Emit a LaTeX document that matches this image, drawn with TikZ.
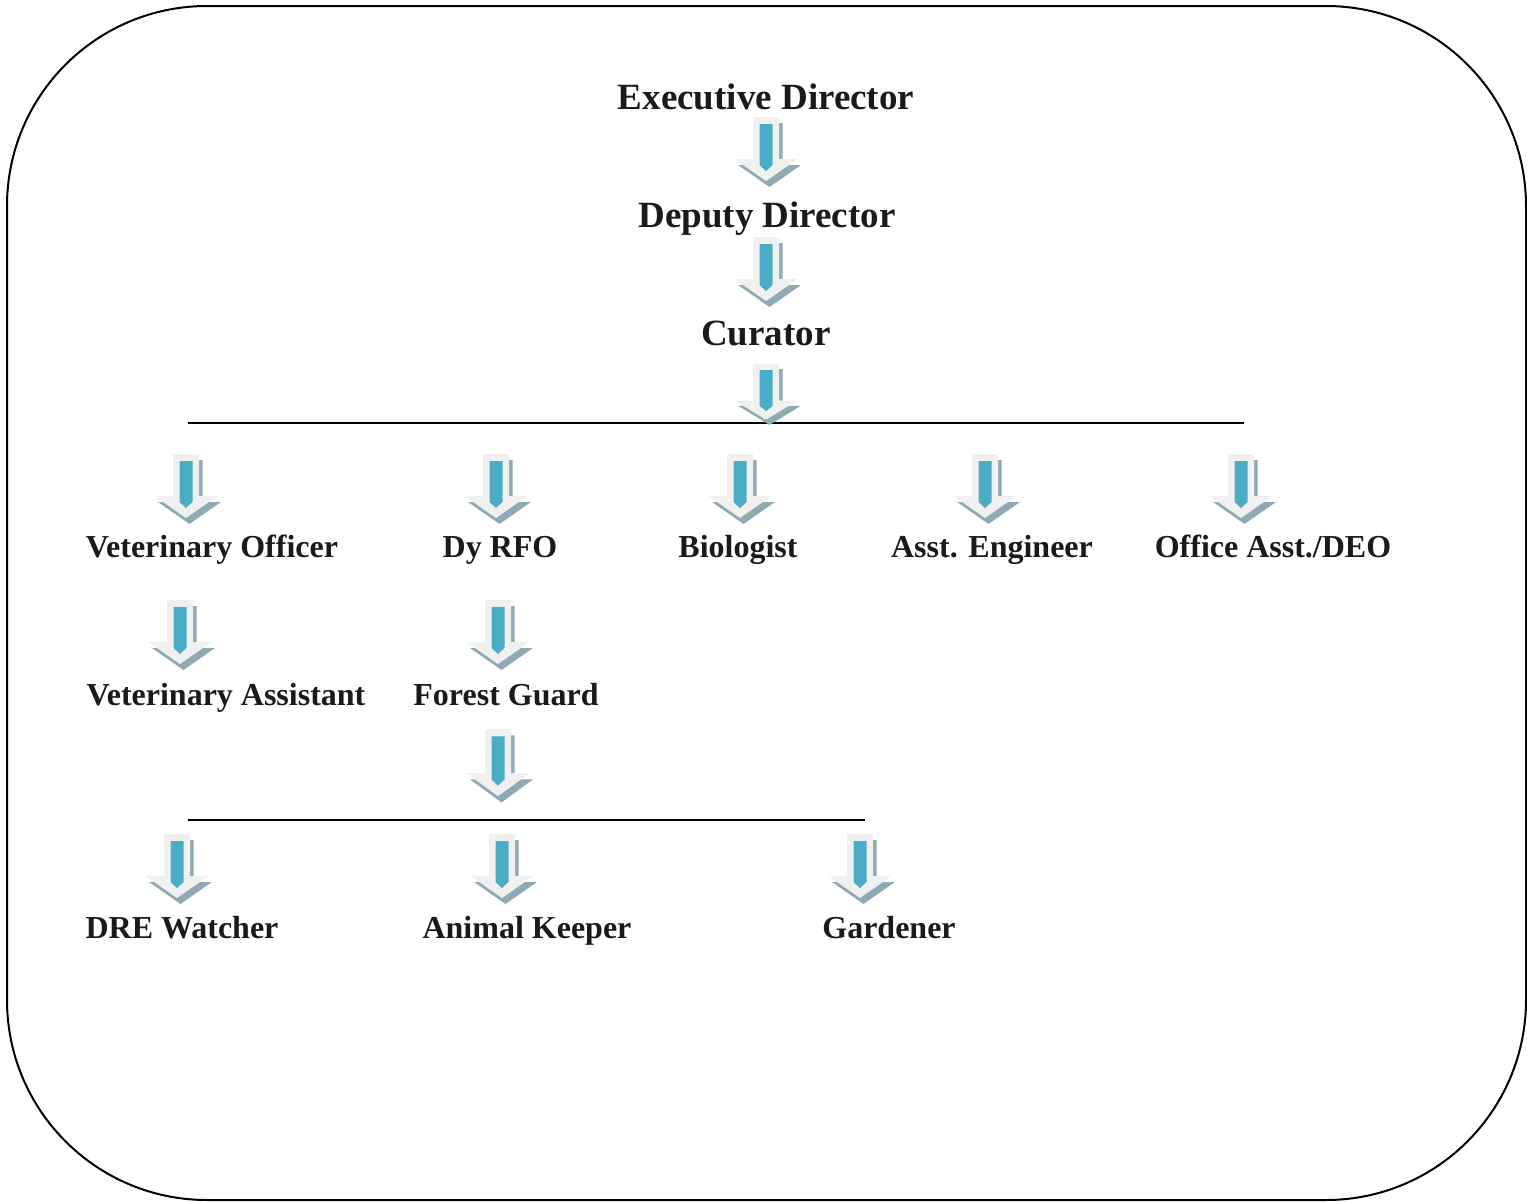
\documentclass[tikz,border=0pt]{standalone}
\usepackage{fontspec}
\setmainfont{Liberation Serif}
\definecolor{arrlight}{HTML}{F0F0F0}
\definecolor{arrshadow}{HTML}{8FAAB3}
\definecolor{arrteal}{HTML}{4BACC6}
\definecolor{txt}{HTML}{1A1A1A}
\tikzset{
  barrow/.pic={
    \fill[arrshadow] (-13+3.5,6) -- (13+3.5,6) -- (13+3.5,42+6) -- (31.5+3.5,42+6) -- (0+3.5,64+6) -- (-31.5+3.5,42+6) -- (-13+3.5,42+6) -- cycle;
    \fill[arrlight] (-13,0) -- (13,0) -- (13,42) -- (31.5,42) -- (0,64) -- (-31.5,42) -- (-13,42) -- cycle;
    \fill[arrteal] (-6.5,7) -- (6.5,7) -- (6.5,48) -- (0,54) -- (-6.5,48) -- cycle;
  },
  toplabel/.style={font=\fontsize{37}{44}\selectfont\bfseries, text=txt, inner sep=0pt, anchor=base},
  sublabel/.style={font=\fontsize{32}{38}\selectfont\bfseries, text=txt, inner sep=0pt, anchor=base},
  bar/.style={line width=1.8pt, black}
}
\begin{document}
\begin{tikzpicture}[x=1pt,y=-1pt]
\useasboundingbox (0,0) rectangle (1527,1202);
\draw[line width=2pt, rounded corners=200pt] (7,6) rectangle (1526,1200);

% labels
\node[toplabel] (exec) at (766,109) {Executive Director};
\node[toplabel] (deputy) at (767,227) {Deputy Director};
\node[toplabel] (curator) at (766,345) {Curator};

\node[sublabel] (vet) at (212,557) {Veterinary Officer};
\node[sublabel] (rfo) at (500,557) {Dy RFO};
\node[sublabel] (bio) at (738,557) {Biologist};
\node[sublabel] (eng) at (992,557) {Asst. Engineer};
\node[sublabel] (office) at (1273,557) {Office Asst./DEO};

\node[sublabel] (vetasst) at (226,705) {Veterinary Assistant};
\node[sublabel] (guard) at (506,705) {Forest Guard};

\node[sublabel] (dre) at (182,938) {DRE Watcher};
\node[sublabel] (keeper) at (527,938) {Animal Keeper};
\node[sublabel] (gardener) at (889,938) {Gardener};

% bus lines
\coordinate (busAL) at (188,423);
\coordinate (busAR) at (1244,423);
\coordinate (busBL) at (188,820);
\coordinate (busBR) at (865,820);
\draw[bar] (busAL) -- (busAR);
\draw[bar] (busBL) -- (busBR);

% block arrows
\pic at (766,117) {barrow};
\pic at (766,237) {barrow};
\pic[yscale=0.87] at (766,364) {barrow};

\pic at (186,454) {barrow};
\pic at (496,454) {barrow};
\pic at (740,454) {barrow};
\pic at (985,454) {barrow};
\pic at (1241,454) {barrow};

\pic at (180,600) {barrow};
\pic at (498,600) {barrow};
\pic[yscale=1.05] at (498,729) {barrow};

\pic at (177,834) {barrow};
\pic at (502,834) {barrow};
\pic at (860,834) {barrow};
\end{tikzpicture}
\end{document}
